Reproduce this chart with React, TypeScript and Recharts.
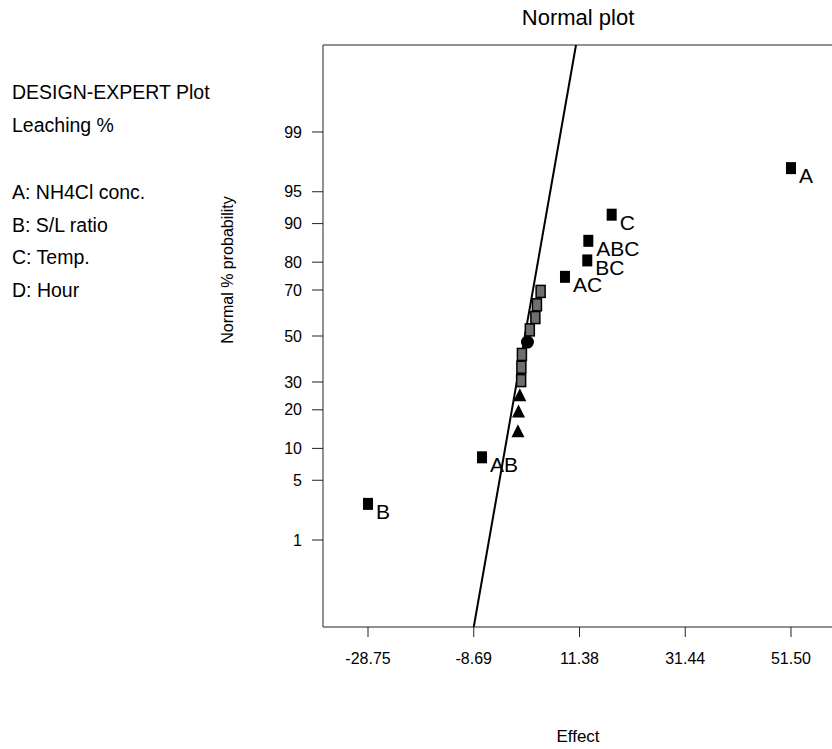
import { ReferenceLine, Scatter, ScatterChart, XAxis, YAxis } from 'recharts'

// effects sorted from smallest to largest, with their normal % probability
const effectNames = ['B', 'AB', '', '', '', '', '', '', '', '', '', '', '', 'AC', 'BC', 'ABC', 'C', 'A']
const effectValues = [-28.75, -7.12, -0.3, -0.2, 0.05, 0.3, 0.35, 0.45, 1.5, 1.95, 3.0, 3.3, 4.0, 8.62, 12.85, 13.05, 17.48, 51.5]
const probabilities = [2.78, 8.33, 13.89, 19.44, 25, 30.56, 36.11, 41.67, 47.22, 52.78, 58.33, 63.89, 69.44, 75, 80.56, 86.11, 91.67, 97.22]
const markerKinds = [
    'square', 'square', 'triangle', 'triangle', 'triangle',
    'grey', 'grey', 'grey', 'circle', 'grey', 'grey', 'grey', 'grey',
    'square', 'square', 'square', 'square', 'square',
]

const xTicks = [-28.75, -8.69, 11.38, 31.44, 51.5]
const yTickLabels = [1, 5, 10, 20, 30, 50, 70, 80, 90, 95, 99]
const fitLineX = [-8.69, 10.71]

const legendLines = ['DESIGN-EXPERT Plot', 'Leaching %', 'A: NH4Cl conc.', 'B: S/L ratio', 'C: Temp.', 'D: Hour']
const legendTops = [93, 126, 193, 226, 258, 291]

const X_DOMAIN = [-37.29, 60.04]
const Y_DOMAIN = [-3.318, 3.318]

const FONT = '"Liberation Sans", Arial, sans-serif'

// inverse of the standard normal CDF (Acklam)
function invNorm(p: number) {
    const a = [-39.69683028665376, 220.9460984245205, -275.9285104469687, 138.357751867269, -30.66479806614716, 2.506628277459239]
    const b = [-54.47609879822406, 161.5858368580409, -155.6989798598866, 66.80131188771972, -13.28068155288572]
    const c = [-0.007784894002430293, -0.3223964580411365, -2.400758277161838, -2.549671010165163, 4.374664141464968, 2.938163982698783]
    const d = [0.007784695709041462, 0.3224671290700398, 2.445134137142996, 3.754408661907416]
    const pl = 0.02425
    if (p < pl) {
        const q = Math.sqrt(-2 * Math.log(p))
        return (((((c[0] * q + c[1]) * q + c[2]) * q + c[3]) * q + c[4]) * q + c[5]) / ((((d[0] * q + d[1]) * q + d[2]) * q + d[3]) * q + 1)
    }
    if (p > 1 - pl) {
        const q = Math.sqrt(-2 * Math.log(1 - p))
        return -(((((c[0] * q + c[1]) * q + c[2]) * q + c[3]) * q + c[4]) * q + c[5]) / ((((d[0] * q + d[1]) * q + d[2]) * q + d[3]) * q + 1)
    }
    const q = p - 0.5
    const r = q * q
    return ((((((a[0] * r + a[1]) * r + a[2]) * r + a[3]) * r + a[4]) * r + a[5]) * q) / (((((b[0] * r + b[1]) * r + b[2]) * r + b[3]) * r + b[4]) * r + 1)
}

const yTicks = yTickLabels.map((p) => invNorm(p / 100))

const points = effectValues.map((x, i) => ({
    x,
    z: invNorm(probabilities[i] / 100),
    kind: markerKinds[i],
    name: effectNames[i],
}))

function Marker(props: any) {
    const { cx, cy, payload } = props
    let mark
    if (payload.kind === 'triangle') {
        mark = <polygon points={`${cx},${cy - 7} ${cx + 6.5},${cy + 6} ${cx - 6.5},${cy + 6}`} fill='#000' />
    } else if (payload.kind === 'circle') {
        mark = <circle cx={cx} cy={cy} r={6.5} fill='#000' />
    } else if (payload.kind === 'grey') {
        mark = <rect x={cx - 4.5} y={cy - 6} width={9} height={12} fill='#6e6e6e' stroke='#000' strokeWidth={1.5} />
    } else {
        mark = <rect x={cx - 5} y={cy - 6} width={10} height={12} fill='#000' />
    }
    return (
        <g>
            {mark}
            {payload.name ? (
                <text x={cx + 8} y={cy + 15} fontSize={21} fontFamily={FONT} fill='#000'>
                    {payload.name}
                </text>
            ) : null}
        </g>
    )
}

const textStyle = { position: 'absolute' as const, fontFamily: FONT, color: '#000', whiteSpace: 'nowrap' as const, lineHeight: 1 }

export default function App() {
    const tickStyle = { fontSize: 16, fill: '#000', fontFamily: FONT }
    return (
        <div style={{ position: 'relative', width: 832, height: 749, overflow: 'hidden', background: '#fff' }}>
            <style>{'html,body{margin:0;padding:0;overflow:hidden}'}</style>
            <div style={{ ...textStyle, left: 578, top: 18, fontSize: 22, transform: 'translate(-50%, -50%)' }}>Normal plot</div>
            {legendLines.map((t, i) => (
                <div key={t} style={{ ...textStyle, left: 12, top: legendTops[i], fontSize: 19.5, transform: 'translateY(-50%)' }}>
                    {t}
                </div>
            ))}
            <div style={{ ...textStyle, left: 228, top: 270, fontSize: 16, transform: 'translate(-50%, -50%) rotate(-90deg)' }}>
                Normal % probability
            </div>
            <div style={{ ...textStyle, left: 578, top: 736, fontSize: 17, transform: 'translate(-50%, -50%)' }}>Effect</div>
            <div style={{ position: 'absolute', left: 0, top: 0 }}>
                <ScatterChart width={836} height={749} margin={{ top: 45, right: 0, bottom: 82, left: 263 }}>
                    <XAxis
                        type='number'
                        dataKey='x'
                        domain={X_DOMAIN}
                        ticks={xTicks}
                        allowDataOverflow
                        height={40}
                        tickSize={10}
                        tickMargin={16}
                        tick={tickStyle}
                        tickFormatter={(v: number) => v.toFixed(2)}
                        stroke='#222'
                    />
                    <YAxis
                        type='number'
                        dataKey='z'
                        domain={Y_DOMAIN}
                        ticks={yTicks}
                        allowDataOverflow
                        width={60}
                        tickSize={11}
                        tickMargin={10}
                        tick={tickStyle}
                        tickFormatter={(v: number) => {
                            const i = yTicks.findIndex((t) => Math.abs(t - v) < 1e-6)
                            return i >= 0 ? String(yTickLabels[i]) : ''
                        }}
                        stroke='#222'
                    />
                    <ReferenceLine y={Y_DOMAIN[1]} stroke='#222' strokeWidth={1} />
                    <ReferenceLine
                        segment={[
                            { x: fitLineX[0], y: Y_DOMAIN[0] },
                            { x: fitLineX[1], y: Y_DOMAIN[1] },
                        ]}
                        stroke='#000'
                        strokeWidth={2}
                    />
                    <Scatter data={points} shape={<Marker />} isAnimationActive={false} />
                </ScatterChart>
            </div>
        </div>
    )
}
